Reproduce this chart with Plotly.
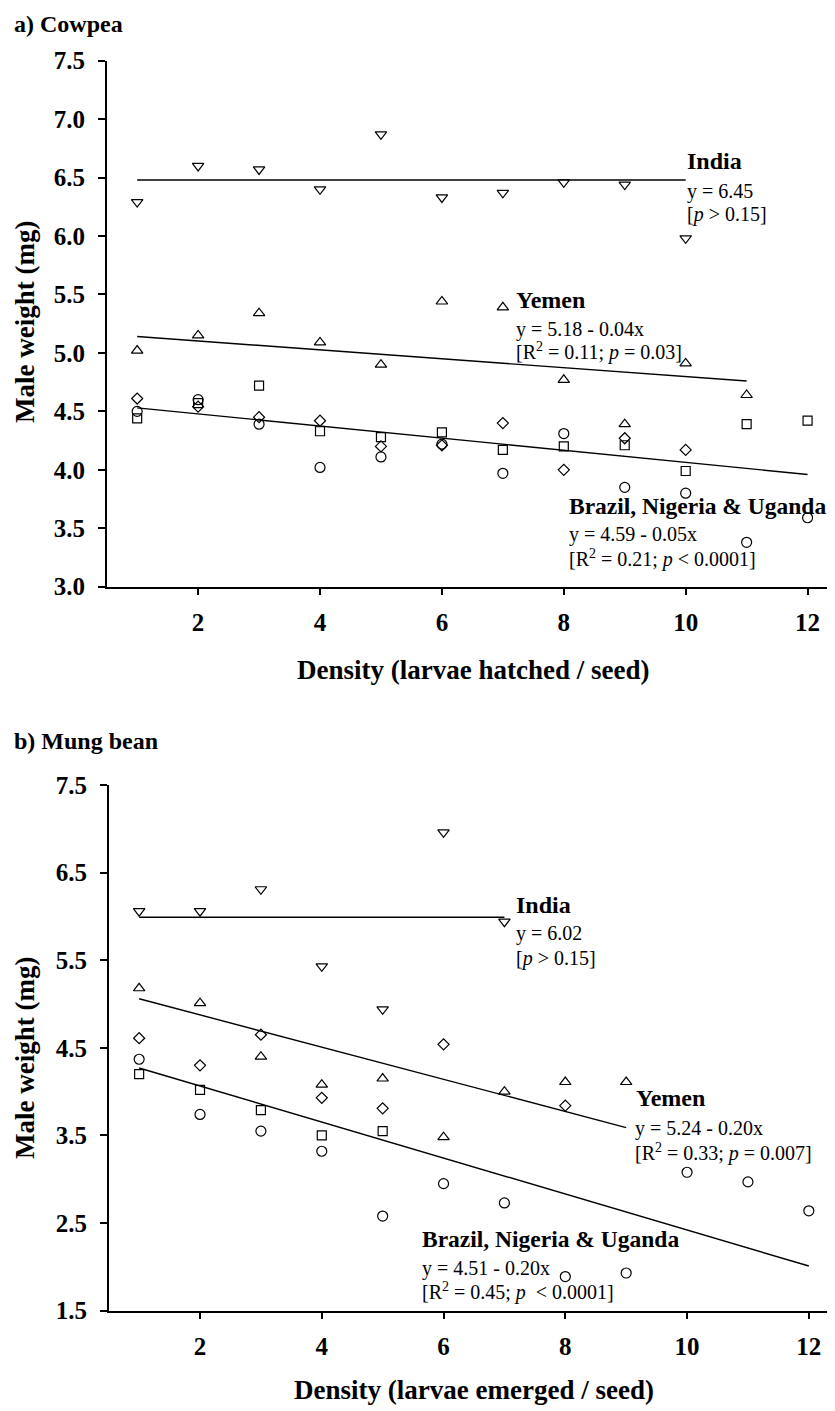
import plotly.graph_objects as go

# ---------------- data ----------------
# a) Cowpea
cow_india_x = [1, 2, 3, 4, 5, 6, 7, 8, 9, 10]
cow_india_y = [6.29, 6.60, 6.57, 6.40, 6.87, 6.33, 6.37, 6.46, 6.44, 5.98]
cow_yemen_x = [1, 2, 3, 4, 5, 6, 7, 8, 9, 10, 11]
cow_yemen_y = [5.02, 5.15, 5.34, 5.09, 4.90, 5.44, 5.39, 4.77, 4.39, 4.91, 4.64]
cow_circle_x = [1, 2, 3, 4, 5, 6, 7, 8, 9, 10, 11, 12]
cow_circle_y = [4.50, 4.60, 4.39, 4.02, 4.11, 4.22, 3.97, 4.31, 3.85, 3.80, 3.38, 3.59]
cow_square_x = [1, 2, 3, 4, 5, 6, 7, 8, 9, 10, 11, 12]
cow_square_y = [4.44, 4.57, 4.72, 4.33, 4.28, 4.32, 4.17, 4.20, 4.21, 3.99, 4.39, 4.42]
cow_diamond_x = [1, 2, 3, 4, 5, 6, 7, 8, 9, 10]
cow_diamond_y = [4.61, 4.54, 4.45, 4.42, 4.20, 4.21, 4.40, 4.00, 4.27, 4.17]

cow_india_fit_x = [1, 10]
cow_india_fit_y = [6.48, 6.48]
cow_yemen_fit_x = [1, 11]
cow_yemen_fit_y = [5.14, 4.76]
cow_bnu_fit_x = [1, 12]
cow_bnu_fit_y = [4.53, 3.96]

# b) Mung bean
mung_india_x = [1, 2, 3, 4, 5, 6, 7]
mung_india_y = [6.06, 6.06, 6.31, 5.43, 4.94, 6.96, 5.94]
mung_yemen_x = [1, 2, 3, 4, 5, 6, 7, 8, 9]
mung_yemen_y = [5.18, 5.01, 4.40, 4.08, 4.15, 3.48, 4.00, 4.11, 4.11]
mung_circle_x = [1, 2, 3, 4, 5, 6, 7, 8, 9, 10, 11, 12]
mung_circle_y = [4.37, 3.74, 3.55, 3.32, 2.58, 2.95, 2.73, 1.89, 1.93, 3.08, 2.97, 2.64]
mung_square_x = [1, 2, 3, 4, 5]
mung_square_y = [4.20, 4.02, 3.79, 3.50, 3.55]
mung_diamond_x = [1, 2, 3, 4, 5, 6, 8]
mung_diamond_y = [4.61, 4.30, 4.65, 3.93, 3.81, 4.54, 3.84]

mung_india_fit_x = [1, 7]
mung_india_fit_y = [5.99, 5.99]
mung_yemen_fit_x = [1, 9]
mung_yemen_fit_y = [5.06, 3.59]
mung_bnu_fit_x = [1, 12]
mung_bnu_fit_y = [4.27, 2.01]

x_ticks = [2, 4, 6, 8, 10, 12]

# ---------------- figure ----------------
# page body has an 8px default margin; size the figure to fill the rest
OFF = 8
W, H = 835 - OFF, 1411 - OFF
FONT = "Liberation Serif, Times New Roman, serif"

fig = go.Figure()


def pts(x, y, sym, size, xa, ya):
    fig.add_trace(go.Scatter(
        x=x, y=y, mode="markers", xaxis=xa, yaxis=ya, showlegend=False,
        marker=dict(symbol=sym, size=size, color="black",
                    line=dict(color="black", width=1.2)),
    ))


def fit(x, y, xa, ya):
    fig.add_trace(go.Scatter(
        x=x, y=y, mode="lines", xaxis=xa, yaxis=ya, showlegend=False,
        line=dict(color="black", width=1.4),
    ))


for xa, ya, fits, series in [
    ("x", "y",
     [(cow_india_fit_x, cow_india_fit_y), (cow_yemen_fit_x, cow_yemen_fit_y),
      (cow_bnu_fit_x, cow_bnu_fit_y)],
     [(cow_india_x, cow_india_y, "triangle-down-open", 10),
      (cow_yemen_x, cow_yemen_y, "triangle-up-open", 10),
      (cow_circle_x, cow_circle_y, "circle-open", 10),
      (cow_square_x, cow_square_y, "square-open", 9),
      (cow_diamond_x, cow_diamond_y, "diamond-open", 8.5)]),
    ("x2", "y2",
     [(mung_india_fit_x, mung_india_fit_y), (mung_yemen_fit_x, mung_yemen_fit_y),
      (mung_bnu_fit_x, mung_bnu_fit_y)],
     [(mung_india_x, mung_india_y, "triangle-down-open", 10),
      (mung_yemen_x, mung_yemen_y, "triangle-up-open", 10),
      (mung_circle_x, mung_circle_y, "circle-open", 10),
      (mung_square_x, mung_square_y, "square-open", 9),
      (mung_diamond_x, mung_diamond_y, "diamond-open", 8.5)]),
]:
    for fx, fy in fits:
        fit(fx, fy, xa, ya)
    for sx, sy, sym, sz in series:
        pts(sx, sy, sym, sz, xa, ya)

axis_common = dict(
    showline=True, linecolor="black", linewidth=1.5,
    ticks="outside", ticklen=7, tickwidth=1.5, tickcolor="black",
    showgrid=False, zeroline=False, automargin=False,
    tickfont=dict(family=FONT, size=25, color="black", weight="bold"),
)


def px_x(p):
    return (p - OFF) / W


def px_y(p):
    return 1 - (p - OFF) / H


fig.update_layout(
    template="none",
    width=W, height=H, autosize=False,
    margin=dict(l=0, r=0, t=0, b=0, pad=0, autoexpand=False),
    paper_bgcolor="white", plot_bgcolor="white",
    xaxis=dict(domain=[px_x(106.7), 1.0], range=[0.5, 12.45], tickvals=x_ticks,
               anchor="y", ticklabelstandoff=6, **axis_common),
    yaxis=dict(domain=[px_y(586.7), px_y(60.7)], range=[3.0, 7.5], dtick=0.5,
               tick0=3.0, tickformat=".1f", anchor="x", ticklabelstandoff=8,
               **axis_common),
    xaxis2=dict(domain=[px_x(108.7), 1.0], range=[0.5, 12.43], tickvals=x_ticks,
                anchor="y2", ticklabelstandoff=6, **axis_common),
    yaxis2=dict(domain=[px_y(1310.7), px_y(785)], range=[1.5, 7.5], dtick=1.0,
                tick0=1.5, tickformat=".1f", anchor="x2", ticklabelstandoff=8,
                **axis_common),
)

annotations = []


def text(s, px, py, size, bold=False, anchor="left", angle=0, yanchor="middle"):
    annotations.append(dict(
        text=s, x=px_x(px), y=px_y(py), xref="paper", yref="paper",
        xanchor=anchor, yanchor=yanchor, showarrow=False, textangle=angle,
        font=dict(family=FONT, size=size, color="black",
                  weight="bold" if bold else "normal"),
    ))


# panel titles
text("a) Cowpea", 12, 8.5, 24, bold=True, yanchor="top")
text("b) Mung bean", 12, 741, 24, bold=True)

# axis titles
text("Density (larvae hatched / seed)", 473, 670, 27, bold=True, anchor="center")
text("Density (larvae emerged / seed)", 474, 1390, 27, bold=True, anchor="center")
text("Male weight (mg)", 25, 322, 27, bold=True, anchor="center", angle=-90)
text("Male weight (mg)", 25, 1058, 27, bold=True, anchor="center", angle=-90)

# panel a labels
text("India", 685, 161, 24, bold=True)
text("y = 6.45", 685, 191, 20)
text("[<i>p</i> > 0.15]", 685, 215, 20)
text("Yemen", 514, 300, 24, bold=True)
text("y = 5.18 - 0.04x", 514, 329, 20)
text("[R<sup>2</sup> = 0.11; <i>p</i> = 0.03]", 514, 351, 20)
text("Brazil, Nigeria &amp; Uganda", 567, 506, 23.5, bold=True)
text("y = 4.59 - 0.05x", 567, 535, 20)
text("[R<sup>2</sup> = 0.21; <i>p</i> < 0.0001]", 567, 558, 20)

# panel b labels
text("India", 514, 905, 24, bold=True)
text("y = 6.02", 514, 933, 20)
text("[<i>p</i> > 0.15]", 514, 958, 20)
text("Yemen", 634, 1098, 24, bold=True)
text("y = 5.24 - 0.20x", 633, 1128, 20)
text("[R<sup>2</sup> = 0.33; <i>p</i> = 0.007]", 633, 1152, 20)
text("Brazil, Nigeria &amp; Uganda", 420, 1239, 23.5, bold=True)
text("y = 4.51 - 0.20x", 420, 1268, 20)
text("[R<sup>2</sup> = 0.45; <i>p</i>  < 0.0001]", 420, 1291, 20)

fig.update_layout(annotations=annotations)

fig.write_html("out.html")
